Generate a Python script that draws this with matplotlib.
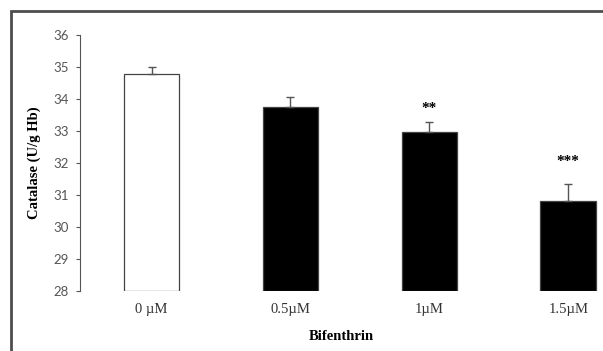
import matplotlib
matplotlib.use("Agg")
import matplotlib.pyplot as plt
from matplotlib.patches import Rectangle

categories = ["0 \u00b5M", "0.5\u00b5M", "1\u00b5M", "1.5\u00b5M"]
values = [34.78, 33.76, 32.96, 30.80]
errors = [0.22, 0.31, 0.32, 0.55]
stars = ["", "", "**", "***"]
star_y = [None, None, 33.70, 32.05]
bar_colors = ["white", "black", "black", "black"]

fig = plt.figure(figsize=(6.03, 3.51), dpi=100)
ax = fig.add_axes([80/603, 1-291/351, 1-80/603, (291-35)/351])

x = list(range(len(categories)))
ax.bar(x, [v - 28 for v in values], bottom=28, width=0.4, color=bar_colors,
       edgecolor="#444444", linewidth=0.9, zorder=2)
ax.errorbar(x, values, yerr=[[0]*len(errors), errors], fmt="none",
            ecolor="#555555", elinewidth=1.0, capsize=3, capthick=1.0, zorder=3)
for xi, s, sy in zip(x, stars, star_y):
    if s:
        ax.text(xi, sy, s, ha="center", va="center", fontsize=11,
                fontweight="bold", family="Liberation Serif")

ax.set_xlim(-0.515, 3.25)
ax.set_ylim(28, 36)
ax.set_yticks(range(28, 37))
ax.set_xticks(x)
ax.set_xticklabels(categories, family="Liberation Serif", fontsize=10.5, color="#333333")
for lbl in ax.get_yticklabels():
    lbl.set_family("Lato")
    lbl.set_fontsize(9.5)
    lbl.set_color("#555555")
ax.tick_params(axis="x", length=0, pad=9)
ax.tick_params(axis="y", length=3, width=0.8, color="#555555", pad=5)
for sp in ["top", "right", "bottom"]:
    ax.spines[sp].set_visible(False)
ax.spines["left"].set_color("#555555")
ax.spines["left"].set_linewidth(0.8)

ax.set_ylabel("Catalase (U/g Hb)", family="Liberation Serif", fontweight="bold",
              fontsize=10.5, labelpad=9)
ax.set_xlabel("Bifenthrin", family="Liberation Serif", fontweight="bold",
              fontsize=10.5, labelpad=10)

fig.patches.append(Rectangle((11/603, -0.1), 1.2, 1.1 - 11/351,
                             transform=fig.transFigure, fill=False,
                             edgecolor="#4d4d4d", linewidth=2, figure=fig))

fig.savefig("out.png", dpi=100)
